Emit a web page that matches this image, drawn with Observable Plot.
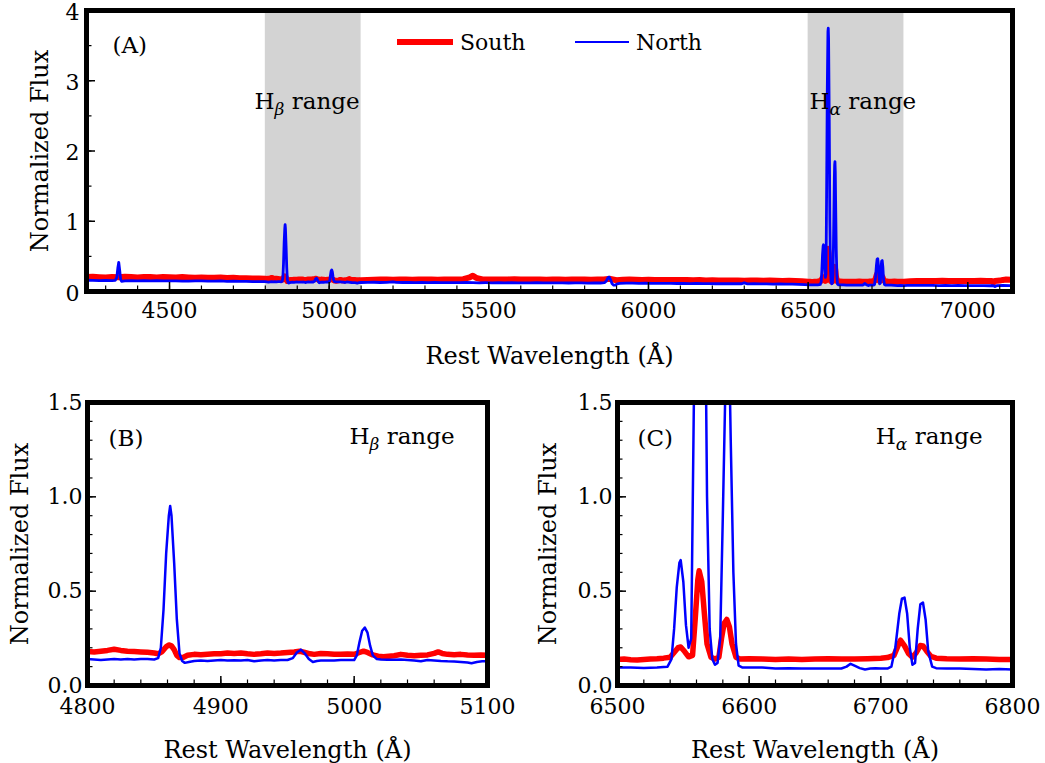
<!DOCTYPE html>
<html><head><meta charset="utf-8">
<script src="https://cdn.jsdelivr.net/npm/d3@7"></script>
<script src="https://cdn.jsdelivr.net/npm/@observablehq/plot@0.6"></script>
<style>
body{margin:0;background:#fff;}
#wrap{position:relative;width:1045px;height:763px;font-family:"DejaVu Serif",serif;overflow:hidden;}
.panel{position:absolute;}
.legline{position:absolute;}
.legtxt{position:absolute;font-family:"DejaVu Serif",serif;font-size:22px;line-height:26px;color:#000;white-space:nowrap;}
</style></head><body><div id="wrap"></div>
<script>
// ---- data: [rest wavelength (Å), normalized flux] ----
const southSpectrum = [
[4240,.205],[4260,.210],[4280,.204],[4300,.200],[4320,.208],[4340,.204],[4360,.210],[4380,.205],[4400,.200],[4420,.208],[4440,.205],[4460,.200],[4480,.206],[4500,.204],[4520,.199],[4540,.205],[4560,.200],[4580,.197],[4600,.200],[4620,.196],[4640,.194],[4660,.198],[4680,.192],[4700,.195],[4720,.190],[4740,.188],[4760,.186],[4780,.184],
[4800,.180],[4805,.178],[4810,.182],[4815,.186],[4820,.192],[4825,.186],[4830,.182],[4835,.180],[4840,.178],[4845,.176],[4850,.172],[4853,.168],[4856,.180],[4859,.205],[4861,.215],[4863,.210],[4865,.190],[4867,.160],[4869,.148],[4872,.150],[4875,.160],[4880,.165],[4885,.163],[4890,.166],[4895,.168],[4900,.168],[4905,.172],[4910,.170],[4915,.172],[4920,.168],[4925,.165],[4930,.168],[4935,.172],[4940,.170],[4945,.172],[4950,.175],[4955,.178],[4959,.182],[4963,.175],[4967,.168],[4970,.165],[4975,.170],[4980,.168],[4985,.166],[4990,.165],[4995,.167],[5000,.165],[5004,.175],[5007,.182],[5010,.175],[5014,.162],[5018,.155],[5022,.152],[5026,.155],[5030,.158],[5035,.165],[5040,.160],[5045,.158],[5050,.160],[5055,.162],[5060,.170],[5063,.178],[5066,.170],[5070,.165],[5075,.163],[5080,.165],[5085,.162],[5090,.160],[5095,.162],[5100,.160],
[5120,.165],[5140,.168],[5160,.170],[5180,.172],[5200,.168],[5220,.170],[5240,.172],[5260,.168],[5280,.170],[5300,.172],[5320,.170],[5340,.168],[5360,.170],[5380,.172],[5400,.170],[5420,.175],[5440,.200],[5450,.225],[5460,.195],[5480,.172],[5500,.170],[5520,.172],[5540,.170],[5560,.172],[5580,.175],[5600,.172],[5620,.170],[5640,.172],[5660,.170],[5680,.168],[5700,.172],[5720,.170],[5740,.168],[5760,.170],[5780,.172],[5800,.170],[5820,.168],[5840,.170],[5860,.172],[5880,.180],[5900,.160],[5920,.168],[5940,.170],[5960,.168],[5980,.165],[6000,.168],[6020,.165],[6040,.163],[6060,.165],[6080,.162],[6100,.164],[6120,.162],[6140,.160],[6160,.162],[6180,.158],[6200,.160],[6220,.158],[6240,.156],[6260,.158],[6280,.155],[6300,.152],[6320,.156],[6340,.155],[6360,.153],[6380,.155],[6400,.152],[6420,.150],[6440,.152],[6460,.148],[6480,.145],
[6500,.138],[6505,.140],[6510,.137],[6515,.135],[6520,.138],[6525,.140],[6530,.142],[6535,.145],[6540,.150],[6543,.175],[6546,.200],[6548,.204],[6551,.180],[6554,.152],[6557,.160],[6559,.350],[6561,.560],[6562,.608],[6564,.550],[6566,.380],[6568,.220],[6571,.150],[6574,.140],[6577,.150],[6579,.250],[6581,.330],[6583,.350],[6585,.310],[6587,.220],[6590,.150],[6593,.140],[6600,.142],[6610,.140],[6620,.138],[6630,.140],[6640,.138],[6650,.140],[6660,.142],[6670,.140],[6680,.140],[6690,.142],[6700,.145],[6705,.148],[6710,.160],[6713,.210],[6715,.240],[6718,.210],[6721,.170],[6724,.150],[6727,.175],[6730,.212],[6732,.210],[6735,.180],[6738,.155],[6742,.145],[6750,.142],[6760,.140],[6770,.142],[6780,.140],[6790,.138],[6800,.138],
[6820,.145],[6840,.148],[6860,.150],[6880,.148],[6900,.150],[6920,.152],[6940,.150],[6960,.148],[6980,.150],[7000,.148],[7020,.150],[7040,.152],[7060,.150],[7075,.148],[7080,.125],[7085,.150],[7100,.155],[7110,.165],[7120,.170],[7140,.168]
];
const northSpectrum = [
[4240,.160],[4260,.158],[4280,.155],[4300,.157],[4320,.155],[4330,.157],[4335,.200],[4338,.330],[4341,.415],[4344,.300],[4347,.170],[4350,.145],[4360,.152],[4380,.155],[4400,.152],[4420,.155],[4440,.151],[4460,.155],[4480,.152],[4500,.150],[4520,.152],[4540,.149],[4560,.147],[4580,.150],[4600,.151],[4620,.149],[4640,.147],[4660,.150],[4680,.145],[4700,.147],[4720,.145],[4740,.143],[4760,.142],[4780,.140],
[4800,.140],[4805,.138],[4810,.135],[4815,.138],[4820,.140],[4825,.138],[4830,.140],[4835,.138],[4840,.140],[4845,.140],[4850,.138],[4853,.145],[4855,.200],[4857,.400],[4859,.700],[4861,.900],[4862,.952],[4863,.900],[4865,.650],[4867,.350],[4869,.170],[4871,.130],[4873,.120],[4876,.125],[4880,.130],[4885,.132],[4890,.130],[4895,.133],[4900,.135],[4905,.132],[4910,.134],[4915,.132],[4920,.135],[4925,.128],[4930,.133],[4935,.135],[4940,.133],[4945,.135],[4950,.135],[4954,.145],[4957,.175],[4960,.190],[4963,.170],[4966,.140],[4969,.125],[4972,.130],[4975,.132],[4980,.133],[4985,.132],[4990,.135],[4995,.135],[5000,.135],[5002,.160],[5004,.230],[5006,.290],[5008,.307],[5010,.280],[5012,.210],[5014,.160],[5017,.140],[5020,.138],[5025,.136],[5030,.137],[5035,.138],[5040,.135],[5045,.132],[5050,.128],[5055,.135],[5060,.133],[5065,.130],[5070,.128],[5075,.127],[5080,.125],[5085,.122],[5088,.118],[5092,.125],[5096,.128],[5100,.128],
[5120,.130],[5140,.132],[5160,.128],[5180,.130],[5200,.138],[5210,.130],[5230,.128],[5250,.130],[5270,.127],[5290,.128],[5310,.126],[5330,.128],[5350,.125],[5370,.127],[5390,.125],[5410,.126],[5430,.128],[5450,.125],[5470,.124],[5490,.125],[5510,.124],[5530,.125],[5550,.123],[5570,.125],[5590,.122],[5610,.124],[5630,.123],[5650,.125],[5670,.122],[5690,.124],[5710,.122],[5730,.123],[5750,.121],[5770,.123],[5790,.122],[5810,.120],[5830,.122],[5850,.121],[5862,.125],[5868,.150],[5873,.195],[5877,.205],[5881,.170],[5886,.110],[5891,.092],[5896,.090],[5902,.110],[5910,.117],[5930,.118],[5950,.120],[5970,.117],[5990,.118],[6010,.116],[6030,.117],[6050,.115],[6070,.116],[6090,.114],[6110,.115],[6130,.113],[6150,.115],[6170,.112],[6190,.113],[6210,.110],[6230,.112],[6250,.110],[6270,.111],[6290,.110],[6300,.122],[6310,.108],[6330,.110],[6350,.108],[6370,.109],[6390,.106],[6410,.107],[6430,.105],[6450,.104],[6470,.100],[6490,.098],
[6500,.095],[6510,.095],[6520,.093],[6530,.095],[6535,.098],[6538,.100],[6541,.140],[6543,.300],[6545,.520],[6547,.650],[6548,.665],[6550,.550],[6552,.320],[6554,.200],[6556,.250],[6558,1.50],[6560,2.90],[6562,3.70],[6563,3.75],[6564,3.60],[6566,2.50],[6568,1.00],[6570,.300],[6572,.140],[6574,.110],[6576,.120],[6578,.250],[6580,.900],[6582,1.60],[6583,1.80],[6584,1.85],[6585,1.70],[6586,1.30],[6588,.600],[6590,.220],[6592,.105],[6595,.095],[6600,.095],[6610,.095],[6620,.090],[6630,.092],[6640,.090],[6650,.090],[6660,.090],[6670,.090],[6674,.100],[6677,.115],[6680,.105],[6684,.092],[6688,.085],[6692,.090],[6696,.092],[6700,.090],[6705,.090],[6708,.100],[6711,.200],[6714,.380],[6716,.460],[6718,.466],[6720,.380],[6722,.200],[6724,.110],[6726,.120],[6728,.300],[6730,.430],[6732,.440],[6734,.350],[6736,.180],[6739,.100],[6742,.092],[6750,.090],[6760,.090],[6770,.088],[6780,.085],[6790,.088],[6800,.085],
[6810,.088],[6830,.086],[6850,.088],[6870,.086],[6890,.087],[6910,.085],[6930,.086],[6950,.084],[6970,.086],[6990,.084],[7010,.085],[7030,.083],[7050,.084],[7070,.082],[7080,.083],[7085,.070],[7090,.083],[7110,.086],[7130,.085],[7140,.085]
];
const seriesNames = ["South", "North"];
const seriesColors = ["#ff0000", "#0000ff"];
const shadedRanges = [[4800, 5100, "Hβ range"], [6500, 6800, "Hα range"]];
const xTicksA = [4500, 5000, 5500, 6000, 6500, 7000];
const yTicksA = [0, 1, 2, 3, 4];
const xTicksB = [4800, 4900, 5000, 5100];
const xTicksC = [6500, 6600, 6700, 6800];
const yTicksBC = [0, 0.5, 1.0, 1.5];

const south = southSpectrum.map(([w, f]) => ({w, f}));
const north = northSpectrum.map(([w, f]) => ({w, f}));
const xLabel = "Rest Wavelength (Å)";
const yLabel = "Normalized Flux";
const FONT = "'DejaVu Serif', serif";
const TICK_FS = 22, LABEL_FS = 24, NOTE_FS = 23;

function tickMarks(xMaj, xMin, yMaj, yMin) {
  return [
    Plot.axisX(xMin, {tickSize: -5.5, tickFormat: () => "", label: null, strokeWidth: 1.2}),
    Plot.axisX(xMaj, {tickSize: -9, tickFormat: () => "", label: null, strokeWidth: 1.5}),
    Plot.axisY(yMin, {tickSize: -5.5, tickFormat: () => "", label: null, strokeWidth: 1.2}),
    Plot.axisY(yMaj, {tickSize: -9, tickFormat: () => "", label: null, strokeWidth: 1.5})
  ];
}

function panel(opts) {
  const range = opts.xDomain;
  const inRange = d => d.w >= range[0] - 20 && d.w <= range[1] + 20;
  return Plot.plot({
    width: opts.width, height: opts.height,
    marginLeft: opts.ml, marginRight: opts.mr, marginTop: opts.mt, marginBottom: opts.mb,
    x: {domain: range, label: null},
    y: {domain: opts.yDomain, label: null},
    style: {fontFamily: FONT, fontSize: TICK_FS + "px", color: "#000", background: "transparent", overflow: "visible"},
    marks: [
      ...(opts.shade ? [Plot.rect(shadedRanges, {x1: d => d[0], x2: d => d[1], fill: "#d3d3d3"})] : []),
      Plot.line(south.filter(inRange), {x: "w", y: "f", stroke: seriesColors[0], strokeWidth: opts.sw[0], clip: true, strokeLinejoin: "round"}),
      Plot.line(north.filter(inRange), {x: "w", y: "f", stroke: seriesColors[1], strokeWidth: opts.sw[1], clip: true, strokeLinejoin: "round"}),
      Plot.axisX(opts.xTicks, {tickSize: 0, tickPadding: opts.xtp, tickFormat: d3.format("d"), fontSize: TICK_FS, label: null}),
      Plot.axisX(opts.xTicks, {tickSize: 0, tickFormat: () => "", fontSize: LABEL_FS, label: xLabel, labelAnchor: "center", labelOffset: opts.xlo, labelArrow: false}),
      Plot.axisY(opts.yTicks, {tickSize: 0, tickPadding: opts.ytp, dy: opts.ydy, tickFormat: opts.yFmt, fontSize: TICK_FS, label: null}),
      Plot.axisY(opts.yTicks, {tickSize: 0, tickFormat: () => "", fontSize: LABEL_FS, label: yLabel, labelAnchor: "center", labelOffset: opts.ylo, labelArrow: false}),
      ...tickMarks(opts.xTicks, opts.xMinor, opts.yTicks, opts.yMinor),
      ...opts.texts,
      Plot.frame({stroke: "#000", strokeWidth: 5})
    ]
  });
}

function subscriptify(svg) {
  d3.select(svg).selectAll("text").each(function () {
    const m = this.textContent.match(/^H([αβ]) range$/);
    if (m) {
      const sel = d3.select(this);
      sel.text(null);
      sel.append("tspan").text("H");
      sel.append("tspan").attr("dy", 6).attr("font-size", "17px").attr("font-style", "italic").text(m[1]);
      sel.append("tspan").attr("dy", -6).text(" range");
    }
  });
}

const wrap = document.getElementById("wrap");
function place(el, left, top) {
  el.classList.add("panel");
  el.style.left = left + "px"; el.style.top = top + "px";
  wrap.appendChild(el);
  subscriptify(el);
}

const note = (t, o) => Plot.text([t], {text: d => d, fontSize: NOTE_FS, lineAnchor: "middle", ...o});

const A = panel({
  width: 1045, height: 372, ml: 86, mr: 33, mt: 10, mb: 81,
  xDomain: [4240, 7140], yDomain: [0, 4], shade: true, sw: [6, 2.8],
  xTicks: xTicksA, xMinor: d3.range(4300, 7141, 100), yTicks: yTicksA, yMinor: d3.range(0, 4.01, 0.5),
  yFmt: d3.format("d"), ytp: 7, ydy: 2, xtp: 11, xlo: 72, ylo: 56,
  texts: [
    note("(A)", {frameAnchor: "top-left", dx: 26, dy: 35, textAnchor: "start"}),
    note(shadedRanges[0][2], {frameAnchor: "top-left", dx: 168, dy: 91, textAnchor: "start"}),
    note(shadedRanges[1][2], {frameAnchor: "top-left", dx: 723, dy: 91, textAnchor: "start"})
  ]
});
place(A, 0, 0);

const B = panel({
  width: 520, height: 383, ml: 87, mr: 33, mt: 22, mb: 78,
  xDomain: [4800, 5100], yDomain: [0, 1.5], shade: false, sw: [5.5, 2.5],
  xTicks: xTicksB, xMinor: d3.range(4800, 5101, 20), yTicks: yTicksBC, yMinor: d3.range(0, 1.501, 0.1),
  yFmt: d3.format(".1f"), ytp: 5, ydy: 0, xtp: 13, xlo: 72, ylo: 77,
  texts: [
    note("(B)", {frameAnchor: "top-left", dx: 21, dy: 36, textAnchor: "start"}),
    note(shadedRanges[0][2], {frameAnchor: "top-right", dx: -33, dy: 34, textAnchor: "end"})
  ]
});
place(B, 0, 380);

const C = panel({
  width: 525, height: 383, ml: 97, mr: 33, mt: 22, mb: 78,
  xDomain: [6500, 6800], yDomain: [0, 1.5], shade: false, sw: [5.5, 2.5],
  xTicks: xTicksC, xMinor: d3.range(6500, 6801, 20), yTicks: yTicksBC, yMinor: d3.range(0, 1.501, 0.1),
  yFmt: d3.format(".1f"), ytp: 5, ydy: 0, xtp: 13, xlo: 72, ylo: 79,
  texts: [
    note("(C)", {frameAnchor: "top-left", dx: 20, dy: 36, textAnchor: "start"}),
    note(shadedRanges[1][2], {frameAnchor: "top-right", dx: -30, dy: 34, textAnchor: "end"})
  ]
});
place(C, 520, 380);

// legend (inside panel A)
const legend = [
  {name: seriesNames[0], color: seriesColors[0], lineLeft: 397, lineW: 56, thick: 6, textLeft: 460},
  {name: seriesNames[1], color: seriesColors[1], lineLeft: 575, lineW: 54, thick: 2.5, textLeft: 636}
];
for (const l of legend) {
  const ln = document.createElement("div");
  ln.className = "legline";
  Object.assign(ln.style, {left: l.lineLeft + "px", top: (42 - l.thick / 2) + "px", width: l.lineW + "px", height: l.thick + "px", background: l.color});
  wrap.appendChild(ln);
  const tx = document.createElement("div");
  tx.className = "legtxt";
  tx.textContent = l.name;
  Object.assign(tx.style, {left: l.textLeft + "px", top: "30px"});
  wrap.appendChild(tx);
}
</script>
</body></html>
